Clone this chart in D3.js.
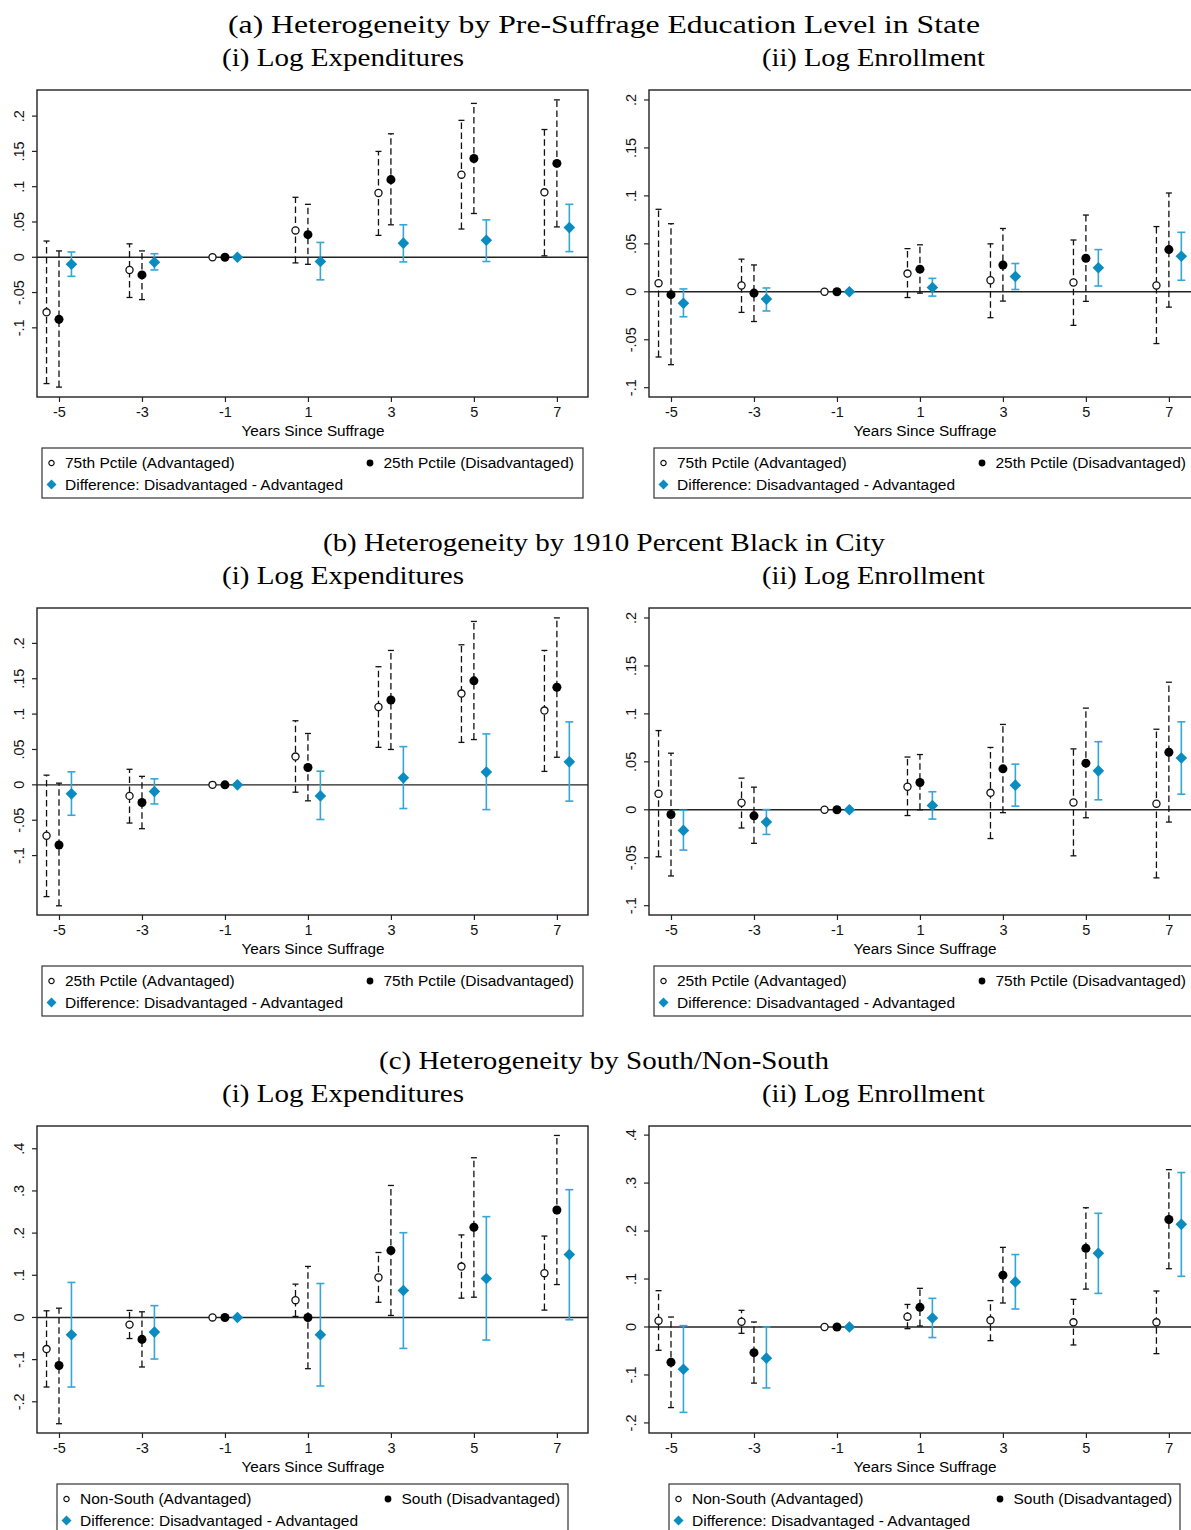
<!DOCTYPE html>
<html>
<head>
<meta charset="utf-8">
<script src="https://cdn.jsdelivr.net/npm/d3@7"></script>
<style>
  body { margin: 0; background: #fff; }
  svg { display: block; }
</style>
</head>
<body>
<svg id="chart" width="1191" height="1530"></svg>
<script>
// Event-study estimates: each entry is [estimate, lower CI, upper CI] by year
const years = [-5, -3, -1, 1, 3, 5, 7];

// (a) pre-suffrage education level
const eduExpAdv = [[-0.078, -0.179, 0.023], [-0.018, -0.057, 0.019], [0, 0, 0], [0.038, -0.008, 0.085], [0.091, 0.031, 0.150], [0.117, 0.040, 0.194], [0.092, 0.002, 0.181]];
const eduExpDis = [[-0.088, -0.184, 0.009], [-0.025, -0.060, 0.009], [0, 0, 0], [0.032, -0.010, 0.075], [0.110, 0.046, 0.175], [0.140, 0.062, 0.218], [0.133, 0.043, 0.223]];
const eduExpDif = [[-0.010, -0.027, 0.0075], [-0.007, -0.018, 0.005], [0, 0, 0], [-0.006, -0.032, 0.021], [0.020, -0.0066, 0.046], [0.024, -0.006, 0.053], [0.042, 0.008, 0.075]];
const eduEnrAdv = [[0.009, -0.068, 0.086], [0.0066, -0.0215, 0.034], [0, 0, 0], [0.019, -0.006, 0.045], [0.012, -0.027, 0.050], [0.0097, -0.035, 0.054], [0.0066, -0.054, 0.068]];
const eduEnrDis = [[-0.003, -0.076, 0.071], [-0.0014, -0.031, 0.028], [0, 0, 0], [0.0236, -0.0014, 0.049], [0.028, -0.0097, 0.066], [0.035, -0.010, 0.080], [0.044, -0.016, 0.103]];
const eduEnrDif = [[-0.012, -0.026, 0.003], [-0.0076, -0.020, 0.004], [0, 0, 0], [0.0045, -0.0045, 0.014], [0.016, 0.0024, 0.0295], [0.025, 0.006, 0.044], [0.037, 0.012, 0.062]];

// (b) 1910 percent black
const blackExpAdv = [[-0.072, -0.158, 0.0137], [-0.0156, -0.054, 0.022], [0, 0, 0], [0.040, -0.0104, 0.0906], [0.110, 0.053, 0.167], [0.129, 0.060, 0.198], [0.105, 0.019, 0.190]];
const blackExpDis = [[-0.085, -0.171, 0.0024], [-0.025, -0.062, 0.012], [0, 0, 0], [0.0245, -0.0226, 0.0726], [0.120, 0.050, 0.190], [0.147, 0.064, 0.231], [0.138, 0.039, 0.236]];
const blackExpDif = [[-0.0127, -0.043, 0.0184], [-0.0094, -0.027, 0.0085], [0, 0, 0], [-0.0156, -0.049, 0.0193], [0.0099, -0.0335, 0.054], [0.018, -0.035, 0.072], [0.0325, -0.023, 0.089]];
const blackEnrAdv = [[0.0167, -0.049, 0.0826], [0.0073, -0.019, 0.033], [0, 0, 0], [0.024, -0.006, 0.055], [0.0177, -0.030, 0.065], [0.0076, -0.048, 0.0635], [0.0063, -0.071, 0.084]];
const blackEnrDis = [[-0.0049, -0.069, 0.059], [-0.0063, -0.035, 0.0236], [0, 0, 0], [0.0285, 0.000, 0.0576], [0.0427, -0.003, 0.089], [0.0486, -0.0083, 0.106], [0.060, -0.0128, 0.133]];
const blackEnrDif = [[-0.0215, -0.042, -0.0005], [-0.0128, -0.0257, 0.0002], [0, 0, 0], [0.0045, -0.0097, 0.0188], [0.0257, 0.0038, 0.0476], [0.0406, 0.0104, 0.071], [0.054, 0.0163, 0.0917]];

// (c) south / non-south
const southExpAdv = [[-0.075, -0.165, 0.0158], [-0.017, -0.050, 0.0166], [0, 0, 0], [0.041, 0.0024, 0.079], [0.0947, 0.036, 0.154], [0.1207, 0.0458, 0.1957], [0.105, 0.0174, 0.193]];
const southExpDis = [[-0.114, -0.252, 0.022], [-0.052, -0.1175, 0.0134], [0, 0, 0], [0.000, -0.1215, 0.121], [0.1586, 0.0047, 0.313], [0.2138, 0.048, 0.3787], [0.2548, 0.078, 0.4316]];
const southExpDif = [[-0.041, -0.165, 0.083], [-0.0347, -0.0986, 0.028], [0, 0, 0], [-0.041, -0.1625, 0.0805], [0.064, -0.0734, 0.201], [0.0923, -0.0536, 0.239], [0.149, -0.0055, 0.303]];
const southEnrAdv = [[0.0132, -0.0486, 0.0757], [0.011, -0.0132, 0.0347], [0, 0, 0], [0.0215, -0.0035, 0.047], [0.0139, -0.0285, 0.055], [0.0097, -0.0375, 0.0576], [0.0097, -0.0556, 0.075]];
const southEnrDis = [[-0.0736, -0.168, 0.0208], [-0.0535, -0.117, 0.0104], [0, 0, 0], [0.041, 0.002, 0.0806], [0.108, 0.050, 0.166], [0.164, 0.079, 0.2486], [0.224, 0.1215, 0.328]];
const southEnrDif = [[-0.088, -0.178, 0.0028], [-0.065, -0.127, 0.000], [0, 0, 0], [0.0188, -0.022, 0.0597], [0.094, 0.0375, 0.151], [0.1535, 0.070, 0.237], [0.214, 0.1056, 0.322]];

const smallTicks = [-0.1, -0.05, 0, 0.05, 0.1, 0.15, 0.2];
const wideTicks = [-0.2, -0.1, 0, 0.1, 0.2, 0.3, 0.4];

const groupTitles = [
  '(a) Heterogeneity by Pre-Suffrage Education Level in State',
  '(b) Heterogeneity by 1910 Percent Black in City',
  '(c) Heterogeneity by South/Non-South'
];
const subTitles = ['(i) Log Expenditures', '(ii) Log Enrollment'];
const legendLabels = [
  ['75th Pctile (Advantaged)', '25th Pctile (Disadvantaged)', 'Difference: Disadvantaged - Advantaged'],
  ['25th Pctile (Advantaged)', '75th Pctile (Disadvantaged)', 'Difference: Disadvantaged - Advantaged'],
  ['Non-South (Advantaged)', 'South (Disadvantaged)', 'Difference: Disadvantaged - Advantaged']
];

// layout
const svg = d3.select('#chart');
const panelW = 551, panelH = 307;
const colX = [37, 649];
const groupTop = [90, 608, 1126];
const titleWidths = [752, 562, 450];
const subWidths = [242, 223];
const legendBoxes = [[5, 546, 333], [5, 546, 333], [20, 531, 351]]; // left, right, col2 (relative to panel)
const blueDot = '#0a8cc0';
const blueBar = '#35a6d6';
const sans = 'Liberation Sans, Arial, sans-serif';

const panels = [
  { g: 0, c: 0, adv: eduExpAdv, dis: eduExpDis, dif: eduExpDif, dom: [-0.198, 0.237], ticks: smallTicks },
  { g: 0, c: 1, adv: eduEnrAdv, dis: eduEnrDis, dif: eduEnrDif, dom: [-0.1097, 0.2104], ticks: smallTicks },
  { g: 1, c: 0, adv: blackExpAdv, dis: blackExpDis, dif: blackExpDif, dom: [-0.184, 0.25], ticks: smallTicks },
  { g: 1, c: 1, adv: blackEnrAdv, dis: blackEnrDis, dif: blackEnrDif, dom: [-0.1097, 0.2104], ticks: smallTicks },
  { g: 2, c: 0, adv: southExpAdv, dis: southExpDis, dif: southExpDif, dom: [-0.274, 0.454], ticks: wideTicks },
  { g: 2, c: 1, adv: southEnrAdv, dis: southEnrDis, dif: southEnrDif, dom: [-0.221, 0.419], ticks: wideTicks }
];

// Stata-style labels: ".05", "-.1", plain hyphen for negatives
const fmt = (d) => (d === 0 ? '0' : String(+d.toFixed(2)).replace('0.', '.'));

// group and panel titles
groupTitles.forEach((t, g) => {
  svg.append('text')
    .attr('x', 604).attr('y', groupTop[g] - 57)
    .attr('text-anchor', 'middle')
    .attr('textLength', titleWidths[g]).attr('lengthAdjust', 'spacingAndGlyphs')
    .style('font-family', 'Liberation Serif, serif').style('font-size', '26px')
    .text(t);
  subTitles.forEach((s, c) => {
    svg.append('text')
      .attr('x', c === 0 ? 343 : 873.5).attr('y', groupTop[g] - 24)
      .attr('text-anchor', 'middle')
      .attr('textLength', subWidths[c]).attr('lengthAdjust', 'spacingAndGlyphs')
      .style('font-family', 'Liberation Serif, serif').style('font-size', '26px')
      .text(s);
  });
});

const x = d3.scaleLinear().domain([-5.53, 7.75]).range([0, panelW]);
const series = [
  { key: 'adv', off: -0.3 },
  { key: 'dis', off: 0 },
  { key: 'dif', off: 0.3 }
];

panels.forEach((p) => {
  const gEl = svg.append('g').attr('transform', `translate(${colX[p.c]},${groupTop[p.g]})`);
  const y = d3.scaleLinear().domain(p.dom).range([panelH, 0]);

  // axes
  const yAxis = gEl.append('g').call(d3.axisLeft(y).tickValues(p.ticks).tickSize(5).tickFormat(fmt));
  yAxis.select('.domain').remove();
  yAxis.selectAll('line').attr('stroke', '#222').attr('stroke-width', 1.2);
  yAxis.selectAll('text')
    .attr('x', 0).attr('dy', 0)
    .attr('transform', (d) => `translate(-13,${y(d)}) rotate(-90)`)
    .attr('y', 0)
    .attr('text-anchor', 'middle')
    .style('font-family', sans).style('font-size', '14.5px').attr('fill', '#111');
  yAxis.selectAll('.tick').attr('transform', null);
  yAxis.selectAll('.tick line').attr('transform', (d) => `translate(0,${y(d)})`);

  const xAxis = gEl.append('g').attr('transform', `translate(0,${panelH})`)
    .call(d3.axisBottom(x).tickValues(years).tickSize(5).tickFormat((d) => String(d)));
  xAxis.select('.domain').remove();
  xAxis.selectAll('line').attr('stroke', '#222').attr('stroke-width', 1.2);
  xAxis.selectAll('text').attr('y', 10).attr('dy', '0.71em')
    .style('font-family', sans).style('font-size', '14.5px').attr('fill', '#111');

  gEl.append('text')
    .attr('x', panelW / 2 + 0.5).attr('y', panelH + 39)
    .attr('text-anchor', 'middle')
    .style('font-family', sans).style('font-size', '15.3px')
    .text('Years Since Suffrage');

  // zero line
  gEl.append('line')
    .attr('x1', 0).attr('x2', panelW)
    .attr('y1', y(0)).attr('y2', y(0))
    .attr('stroke', '#222').attr('stroke-width', 1.4);

  // error bars and markers
  series.forEach((s) => {
    const data = p[s.key].map((v, i) => ({ yr: years[i], est: v[0], lo: v[1], hi: v[2] }));
    const isDif = s.key === 'dif';
    const cap = isDif ? 4 : 3;
    const bars = gEl.append('g').selectAll('g').data(data.filter((d) => d.hi !== d.lo)).join('g')
      .attr('stroke', isDif ? blueBar : '#111')
      .attr('stroke-width', isDif ? 1.6 : 1.3);
    bars.append('line')
      .attr('x1', (d) => x(d.yr + s.off)).attr('x2', (d) => x(d.yr + s.off))
      .attr('y1', (d) => y(d.lo)).attr('y2', (d) => y(d.hi))
      .attr('stroke-dasharray', isDif ? null : '6.5,3.5');
    bars.selectAll('.cap').data((d) => [d.lo, d.hi].map((v) => ({ v, xc: x(d.yr + s.off) }))).join('line')
      .attr('class', 'cap')
      .attr('x1', (d) => d.xc - cap).attr('x2', (d) => d.xc + cap)
      .attr('y1', (d) => y(d.v)).attr('y2', (d) => y(d.v));

    const pts = gEl.append('g').selectAll('path').data(data).join('path')
      .attr('transform', (d) => `translate(${x(d.yr + s.off)},${y(d.est)})`);
    if (s.key === 'adv') {
      pts.attr('d', d3.symbol(d3.symbolCircle, 40)).attr('fill', '#fff').attr('stroke', '#111').attr('stroke-width', 1.3);
    } else if (s.key === 'dis') {
      pts.attr('d', d3.symbol(d3.symbolCircle, 64)).attr('fill', '#000');
    } else {
      pts.attr('d', 'M0,-5.8L5.8,0L0,5.8L-5.8,0Z').attr('fill', blueDot);
    }
  });

  // frame
  gEl.append('rect')
    .attr('width', panelW).attr('height', panelH)
    .attr('fill', 'none').attr('stroke', '#222').attr('stroke-width', 1.4);

  // legend
  const lb = legendBoxes[p.g];
  const labels = legendLabels[p.g];
  const lg = gEl.append('g').attr('transform', `translate(0,${panelH + 51})`);
  lg.append('rect')
    .attr('x', lb[0]).attr('y', 0).attr('width', lb[1] - lb[0]).attr('height', 50)
    .attr('fill', 'none').attr('stroke', '#333').attr('stroke-width', 1.2);
  const items = [
    { sx: lb[0] + 9.5, cy: 15, label: labels[0], kind: 'adv' },
    { sx: lb[2], cy: 15, label: labels[1], kind: 'dis' },
    { sx: lb[0] + 9.5, cy: 36.5, label: labels[2], kind: 'dif' }
  ];
  items.forEach((it) => {
    const sym = lg.append('path').attr('transform', `translate(${it.sx},${it.cy})`);
    if (it.kind === 'adv') {
      sym.attr('d', d3.symbol(d3.symbolCircle, 22)).attr('fill', '#fff').attr('stroke', '#111').attr('stroke-width', 1.2);
    } else if (it.kind === 'dis') {
      sym.attr('d', d3.symbol(d3.symbolCircle, 36)).attr('fill', '#000');
    } else {
      sym.attr('d', 'M0,-5L5,0L0,5L-5,0Z').attr('fill', blueDot);
    }
    lg.append('text')
      .attr('x', it.sx + 13.5).attr('y', it.cy + 5.3)
      .style('font-family', sans).style('font-size', '15.5px')
      .text(it.label);
  });
});
</script>
</body>
</html>
